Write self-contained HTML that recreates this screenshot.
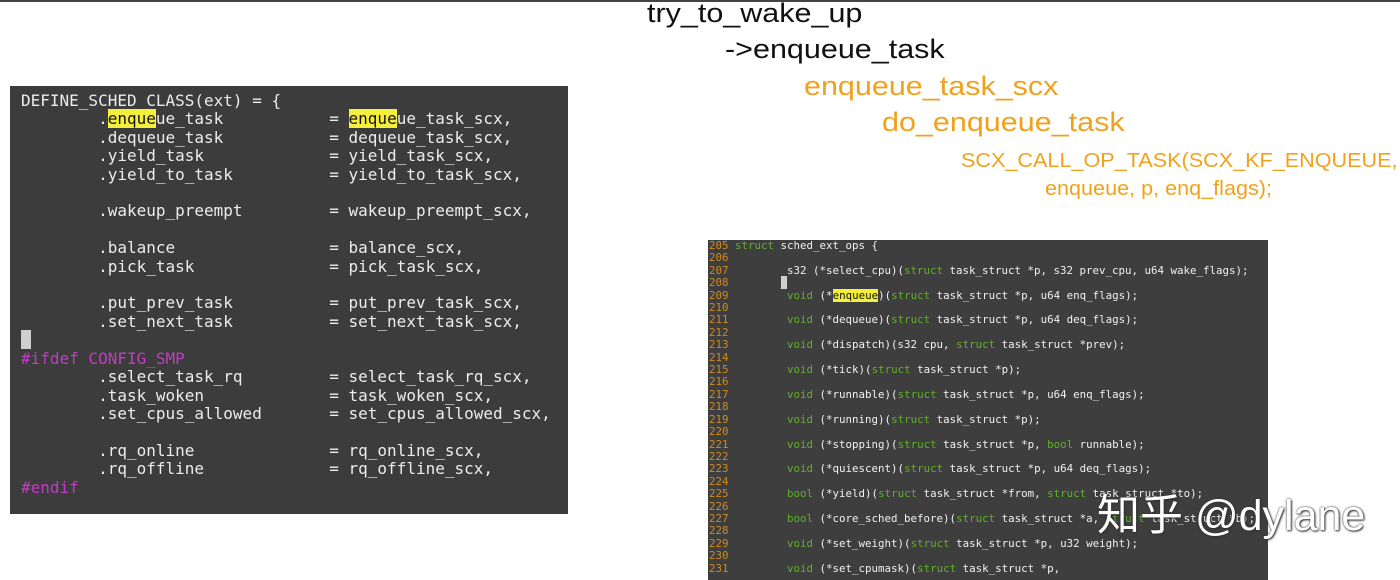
<!DOCTYPE html>
<html><head><meta charset="utf-8"><style>
html,body{margin:0;padding:0;width:1400px;height:580px;overflow:hidden;background:#fff;position:relative;font-family:"Liberation Sans",sans-serif}
.t{position:absolute;white-space:nowrap;line-height:1;transform-origin:0 0}
.b{font-size:27px;transform:scaleX(1.13)}
.s{font-size:20px;transform:scaleX(1.08)}
pre{margin:0;position:absolute;font-family:"DejaVu Sans Mono","Liberation Mono",monospace;white-space:pre}
#l{left:10px;top:86px;width:558px;height:428px;background:#3c3c3c;position:absolute}
#lp{left:21px;top:92px;font-size:16px;line-height:18.4px;color:#ececec}
#r{left:708px;top:240px;width:560px;height:340px;background:#3e3e3e;position:absolute;overflow:hidden}
#rp{left:1px;top:0px;font-size:10.8px;line-height:12.4px;color:#f0f0f0}
.h{background:#f4ef3a;color:#111}
.m{color:#c23cc2}
.k{color:#5fb02a}
.n{color:#d08a1c}
.c{background:#cfcfcf;color:#cfcfcf}
.o{color:#f0a21e}
</style></head><body>
<div style="position:absolute;left:0;top:0;width:1400px;height:2px;background:#444"></div>
<div class="t b" style="left:647px;top:0px;color:#111">try_to_wake_up</div>
<div class="t b" style="left:725px;top:36px;color:#111">-&gt;enqueue_task</div>
<div class="t b o" style="left:804px;top:73px">enqueue_task_scx</div>
<div class="t b o" style="left:882px;top:109px">do_enqueue_task</div>
<div class="t s o" style="left:961px;top:151px">SCX_CALL_OP_TASK(SCX_KF_ENQUEUE,</div>
<div class="t s o" style="left:1045px;top:179px">enqueue, p, enq_flags);</div>
<div id="l"></div>
<pre id="lp">DEFINE_SCHED_CLASS(ext) = {
        .<span class="h">enque</span>ue_task           = <span class="h">enque</span>ue_task_scx,
        .dequeue_task           = dequeue_task_scx,
        .yield_task             = yield_task_scx,
        .yield_to_task          = yield_to_task_scx,

        .wakeup_preempt         = wakeup_preempt_scx,

        .balance                = balance_scx,
        .pick_task              = pick_task_scx,

        .put_prev_task          = put_prev_task_scx,
        .set_next_task          = set_next_task_scx,
<span class="c">_</span>
<span class="m">#ifdef CONFIG_SMP</span>
        .select_task_rq         = select_task_rq_scx,
        .task_woken             = task_woken_scx,
        .set_cpus_allowed       = set_cpus_allowed_scx,

        .rq_online              = rq_online_scx,
        .rq_offline             = rq_offline_scx,
<span class="m">#endif</span></pre>
<div id="r"><pre id="rp"><span class="n">205</span> <span class="k">struct</span> sched_ext_ops {
<span class="n">206</span>
<span class="n">207</span>         s32 (*select_cpu)(<span class="k">struct</span> task_struct *p, s32 prev_cpu, u64 wake_flags);
<span class="n">208</span>        <span class="c">_</span>
<span class="n">209</span>         <span class="k">void</span> (*<span class="h">enqueue</span>)(<span class="k">struct</span> task_struct *p, u64 enq_flags);
<span class="n">210</span>
<span class="n">211</span>         <span class="k">void</span> (*dequeue)(<span class="k">struct</span> task_struct *p, u64 deq_flags);
<span class="n">212</span>
<span class="n">213</span>         <span class="k">void</span> (*dispatch)(s32 cpu, <span class="k">struct</span> task_struct *prev);
<span class="n">214</span>
<span class="n">215</span>         <span class="k">void</span> (*tick)(<span class="k">struct</span> task_struct *p);
<span class="n">216</span>
<span class="n">217</span>         <span class="k">void</span> (*runnable)(<span class="k">struct</span> task_struct *p, u64 enq_flags);
<span class="n">218</span>
<span class="n">219</span>         <span class="k">void</span> (*running)(<span class="k">struct</span> task_struct *p);
<span class="n">220</span>
<span class="n">221</span>         <span class="k">void</span> (*stopping)(<span class="k">struct</span> task_struct *p, <span class="k">bool</span> runnable);
<span class="n">222</span>
<span class="n">223</span>         <span class="k">void</span> (*quiescent)(<span class="k">struct</span> task_struct *p, u64 deq_flags);
<span class="n">224</span>
<span class="n">225</span>         <span class="k">bool</span> (*yield)(<span class="k">struct</span> task_struct *from, <span class="k">struct</span> task_struct *to);
<span class="n">226</span>
<span class="n">227</span>         <span class="k">bool</span> (*core_sched_before)(<span class="k">struct</span> task_struct *a, <span class="k">struct</span> task_struct *b);
<span class="n">228</span>
<span class="n">229</span>         <span class="k">void</span> (*set_weight)(<span class="k">struct</span> task_struct *p, u32 weight);
<span class="n">230</span>
<span class="n">231</span>         <span class="k">void</span> (*set_cpumask)(<span class="k">struct</span> task_struct *p,</pre></div>
<div class="t" style="left:1097px;top:495px;font-size:43px;color:#fff;text-shadow:0 0 2px #333,1px 1px 2px #333;font-family:'Liberation Sans','Noto Sans CJK SC',sans-serif">知乎 @dylane</div>
</body></html>
